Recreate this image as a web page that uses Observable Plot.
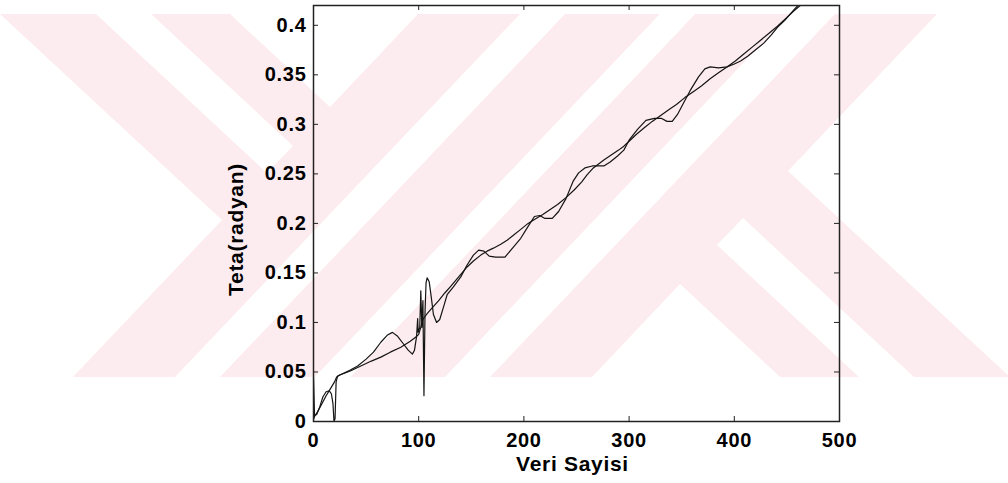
<!DOCTYPE html>
<html>
<head>
<meta charset="utf-8">
<script src="https://cdn.jsdelivr.net/npm/d3@7"></script>
<script src="https://cdn.jsdelivr.net/npm/@observablehq/plot@0.6"></script>
<style>
  html, body { margin: 0; padding: 0; background: #fff; }
  #chart { position: relative; width: 1008px; height: 483px; overflow: hidden; }
  #chart svg { position: absolute; left: 0; top: 0; }
  #chart svg.fig text { letter-spacing: 0.7px; }
</style>
</head>
<body>
<div id="chart"></div>
<script>
// Axis ticks
const xTicks = [0, 100, 200, 300, 400, 500];
const yTickLabels = ["0", "0.05", "0.1", "0.15", "0.2", "0.25", "0.3", "0.35", "0.4"];
const yTicks = yTickLabels.map(Number);

// Near-linear theta curve
const smoothIdx = [0, 1, 4, 8, 12, 16, 20, 22, 25, 30, 35, 45, 55, 64, 73, 83, 92, 97, 100, 102, 104, 106, 108, 113, 119, 125, 130, 138, 146, 152, 159, 165, 171, 178, 184, 190, 197, 204, 210, 218, 225, 232, 240, 248, 255, 260, 266, 271, 276, 283, 290, 295, 300, 307, 315, 322, 330, 338, 345, 353, 361, 369, 377, 385, 393, 401, 409, 417, 425, 433, 441, 449, 457, 465, 470];
const smoothTheta = [0.002, 0.005, 0.010, 0.018, 0.026, 0.033, 0.040, 0.045, 0.047, 0.049, 0.051, 0.056, 0.061, 0.065, 0.070, 0.075, 0.081, 0.085, 0.088, 0.095, 0.103, 0.106, 0.109, 0.115, 0.122, 0.130, 0.136, 0.146, 0.156, 0.162, 0.168, 0.172, 0.175, 0.179, 0.183, 0.188, 0.194, 0.200, 0.204, 0.209, 0.214, 0.219, 0.226, 0.234, 0.242, 0.249, 0.256, 0.260, 0.264, 0.269, 0.274, 0.278, 0.283, 0.290, 0.297, 0.303, 0.309, 0.315, 0.320, 0.327, 0.333, 0.339, 0.346, 0.352, 0.358, 0.364, 0.371, 0.378, 0.385, 0.392, 0.399, 0.407, 0.415, 0.422, 0.427];

// Oscillating theta curve
const wavyIdx = [0, 1, 3, 6, 9, 12, 15, 17, 18.5, 19.5, 20.5, 21.5, 23, 27, 35, 42, 50, 57, 64, 70, 75, 80, 85, 90, 94, 96, 98, 99, 99.5, 101, 102, 103, 104, 105, 106, 107, 108, 110, 112, 114, 117, 120, 124, 127, 133, 140, 146, 152, 157, 162, 167, 173, 182, 190, 197, 204, 210, 215, 220, 227, 233, 240, 247, 252, 258, 265, 276, 282, 289, 295, 300, 308, 316, 324, 331, 336, 341, 346, 352, 358, 366, 372, 377, 385, 393, 400, 406, 413, 420, 428, 435, 441, 448, 457, 465];
const wavyTheta = [0.045, 0.006, 0.007, 0.015, 0.025, 0.030, 0.031, 0.028, 0.018, 0.000, 0.003, 0.040, 0.046, 0.048, 0.052, 0.056, 0.063, 0.070, 0.080, 0.087, 0.090, 0.086, 0.079, 0.072, 0.068, 0.072, 0.086, 0.104, 0.090, 0.095, 0.132, 0.095, 0.122, 0.026, 0.110, 0.140, 0.145, 0.141, 0.125, 0.108, 0.100, 0.103, 0.117, 0.128, 0.136, 0.146, 0.158, 0.168, 0.173, 0.172, 0.167, 0.166, 0.166, 0.176, 0.185, 0.197, 0.207, 0.208, 0.205, 0.205, 0.212, 0.225, 0.243, 0.251, 0.256, 0.258, 0.258, 0.262, 0.268, 0.274, 0.284, 0.295, 0.304, 0.306, 0.306, 0.303, 0.303, 0.310, 0.322, 0.334, 0.348, 0.356, 0.358, 0.357, 0.358, 0.361, 0.364, 0.369, 0.375, 0.382, 0.390, 0.398, 0.405, 0.416, 0.425];

const smooth = smoothIdx.map((x, i) => ({x, y: smoothTheta[i]}));
const wavy = wavyIdx.map((x, i) => ({x, y: wavyTheta[i]}));

const W = 1008, H = 483;
const ink = "#141414";
const font = "'Liberation Sans', Arial, Helvetica, sans-serif";

// Faint pink watermark band behind the figure (page decoration, not data)
const band = {top: 14, bottom: 377};
const cutouts = [
  [[0,14],[222,220],[73,377],[0,377]],
  [[96,14],[151,14],[293,146],[267,173]],
  [[230,14],[418,14],[330,107]],
  [[520,14],[565,14],[220,377],[175,377]],
  [[660,14],[695,14],[350,377],[315,377]]
];
// the logo is point-symmetric about (505, 195.5)
const allCutouts = cutouts.concat(cutouts.map(p => p.map(([x, y]) => [1010 - x, 391 - y])));

const bg = d3.create("svg").attr("width", W).attr("height", H);
bg.append("rect").attr("x", 0).attr("y", band.top).attr("width", W)
  .attr("height", band.bottom - band.top).attr("fill", "#fdecef");
bg.selectAll("polygon").data(allCutouts).join("polygon")
  .attr("points", d => d.map(p => p.join(",")).join(" "))
  .attr("fill", "#fff");

const frameW = 839 - 313, frameH = 421 - 5;

const fig = Plot.plot({
  width: W,
  height: H,
  marginLeft: 313,
  marginRight: W - 839,
  marginTop: 5,
  marginBottom: H - 421,
  style: {background: "none", fontFamily: font, fontSize: "20px", fontWeight: "bold", color: "#000"},
  x: {domain: [0, 500]},
  y: {domain: [0, 0.42]},
  marks: [
    Plot.line(smooth, {x: "x", y: "y", stroke: ink, strokeWidth: 1.2, clip: true}),
    Plot.line(wavy, {x: "x", y: "y", stroke: ink, strokeWidth: 1.2, clip: true}),
    // inward tick marks on all four sides
    Plot.ruleX(xTicks, {x: d => d, insetTop: frameH - 5, stroke: "#222"}),
    Plot.ruleX(xTicks, {x: d => d, insetBottom: frameH - 5, stroke: "#222"}),
    Plot.ruleY(yTicks, {y: d => d, insetRight: frameW - 5, stroke: "#222"}),
    Plot.ruleY(yTicks, {y: d => d, insetLeft: frameW - 5, stroke: "#222"}),
    Plot.frame({stroke: "#222", strokeWidth: 1.5}),
    Plot.axisX(xTicks, {tickSize: 0, tickPadding: 11, tickFormat: d => String(d), label: null}),
    Plot.axisY(yTicks, {tickSize: 0, tickPadding: 7, tickFormat: d => yTickLabels[yTicks.indexOf(d)], label: null}),
    Plot.text(["Veri Sayisi"], {text: d => d, frameAnchor: "bottom", textAnchor: "middle", dx: -4, dy: 49, fontSize: 21, fontWeight: "bold", fill: "#000"}),
    Plot.text(["Teta(radyan)"], {text: d => d, frameAnchor: "left", textAnchor: "middle", rotate: -90, dx: -77, dy: 16, fontSize: 21, fontWeight: "bold", fill: "#000"})
  ]
});
fig.classList.add("fig");

const chart = document.getElementById("chart");
chart.appendChild(bg.node());
chart.appendChild(fig);
</script>
</body>
</html>
